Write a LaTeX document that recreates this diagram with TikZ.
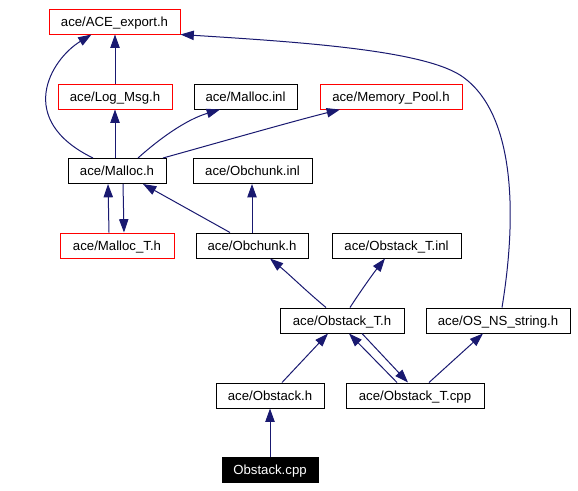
\documentclass[tikz,border=0pt]{standalone}
\usepackage{fontspec}
\setmainfont{Liberation Sans}
\usetikzlibrary{arrows.meta,calc}
\definecolor{edgeblue}{HTML}{191970}
\tikzset{
  box/.style={draw=black,line width=0.75pt,minimum height=18.75pt,inner sep=0pt,
    text height=7.1pt,text depth=0pt,
    font=\fontsize{9.9pt}{11pt}\selectfont,text=black},
  redbox/.style={box,draw=red},
  mainbox/.style={box,fill=black,text=white},
  bw/.style={minimum width=#1*0.75pt},
  edge/.style={draw=edgeblue,line width=0.75pt,-{Triangle[length=10pt,width=7pt]}},
}
\begin{document}
\begin{tikzpicture}[x=0.75pt,y=-0.75pt]
\useasboundingbox (0,0) rectangle (578,490);
% nodes
\node[redbox,bw=131] (ace) at (114.5,21.5) {ace/ACE\_export.h};
\node[redbox,bw=114] (logmsg) at (115,96.5) {ace/Log\_Msg.h};
\node[box,bw=103] (mallocinl) at (245.5,96.5) {ace/Malloc.inl};
\node[redbox,bw=142] (mempool) at (391,96.5) {ace/Memory\_Pool.h};
\node[box,bw=98] (malloch) at (117,171) {ace/Malloc.h};
\node[box,bw=119] (obchunkinl) at (252.5,171) {ace/Obchunk.inl};
\node[redbox,bw=114] (mallocT) at (117,245.5) {ace/Malloc\_T.h};
\node[box,bw=112] (obchunkh) at (252,245.5) {ace/Obchunk.h};
\node[box,bw=129] (obstackTinl) at (396.5,245.5) {ace/Obstack\_T.inl};
\node[box,bw=124] (obstackTh) at (342,320.5) {ace/Obstack\_T.h};
\node[box,bw=144] (osns) at (498,320.5) {ace/OS\_NS\_string.h};
\node[box,bw=108] (obstackh) at (270,395.5) {ace/Obstack.h};
\node[box,bw=138] (obstackTcpp) at (415,395.5) {ace/Obstack\_T.cpp};
\node[mainbox,bw=96] (obstackcpp) at (270,470) {Obstack.cpp};
% edges
\draw[edge] ($(malloch.north)+(-24,0)$) .. controls (15,120) and (50,60) .. ($(ace.south)+(-23,0)$);
\draw[edge] (logmsg.north) -- (ace.south -| logmsg.north);
\draw[edge] ($(malloch.north)+(-2,0)$) -- (logmsg.south);
\draw[edge] ($(malloch.north)+(21,0)$) .. controls (158,140) and (185,120) .. ($(mallocinl.south)+(-25.5,0)$);
\draw[edge] ($(malloch.north)+(46,0)$) .. controls (210,145) and (290,122) .. ($(mempool.south)+(-51,0)$);
\draw[edge] ($(malloch.south)+(6,0)$) -- ($(mallocT.north)+(7,0)$);
\draw[edge] ($(mallocT.north)+(-8,0)$) -- ($(malloch.south)+(-9,0)$);
\draw[edge] ($(obchunkh.north)+(-22,0)$) -- ($(malloch.south)+(26,0)$);
\draw[edge] (obchunkh.north) -- (obchunkinl.south -| obchunkh.north);
\draw[edge] ($(obstackTh.north)+(-16,0)$) .. controls (305,290) and (290,275) .. ($(obchunkh.south)+(18,0)$);
\draw[edge] ($(obstackTh.north)+(8,0)$) .. controls (358,295) and (372,275) .. ($(obstackTinl.south)+(-11.5,0)$);
\draw[edge] ($(osns.north)+(4,0)$) .. controls (518,210) and (514,110) .. (460,75)
  .. controls (420,50) and (300,42) .. (ace.south east);
\draw[edge] ($(obstackTcpp.north)+(-18,0)$) -- ($(obstackTh.south)+(7,0)$);
\draw[edge] ($(obstackTh.south)+(20,0)$) -- ($(obstackTcpp.north)+(-7,0)$);
\draw[edge] ($(obstackTcpp.north)+(14,0)$) -- ($(osns.south)+(-15,0)$);
\draw[edge] ($(obstackh.north)+(12,0)$) -- ($(obstackTh.south)+(-14,0)$);
\draw[edge] (obstackcpp.north) -- (obstackh.south);
\end{tikzpicture}
\end{document}
